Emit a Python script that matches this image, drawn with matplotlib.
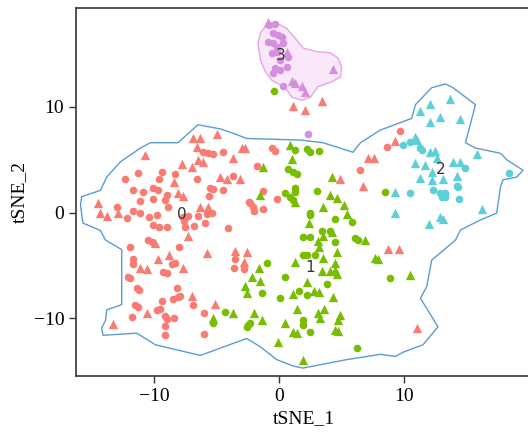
import matplotlib
matplotlib.use("Agg")
import matplotlib.pyplot as plt

# cluster colours as they appear in the picture
colors = {"0": "#F87C72", "1": "#78BE00", "2": "#5CCFD8", "3": "#D490DE"}

# cluster 0 (salmon)
c0_circle_x = [-6.1, -5.7, -5.3, -4.5, -11.3, -9.4, -12.3, -9.6, -8.3, -6.6, -3.7, -11.7, -10.9, -10.1, -9.7,
               -9.0, -5.5, -5.3, -4.5, -5.6, -11.1, -10.1, -9.1, -8.9, -13.0, -12.2, -11.7, -11.1, -10.4, -9.8,
               -7.7, -7.3, -7.6, -7.5, -6.5, -5.8, -5.4, -5.9, -6.8, -10.1, -9.6, -9.0, -4.1, -2.3, -2.1,
               -11.9, -10.5, -10.2, -8.0, -0.6, -0.3, -1.8, -1.3, -0.2, -2.4, -2.0, -1.3, 8.6, 9.7, 6.5,
               -3.5, -3.6, -2.8, -11.7, -11.7, -8.6, -8.3, -9.3, -9.0, -12.1, -11.9, -11.4, -11.2, -8.2, -8.5,
               -8.1, -7.9, -9.4, -6.9, -11.5, -11.3, -9.8, -9.5, -9.1, -9.0, -8.4, -6.0, -11.8, -9.1, -9.1, -6.0]
c0_circle_y = [5.7, 5.6, 5.5, 5.7, 3.7, 3.8, 3.2, 3.2, 3.6, 3.2, 3.5, 2.1, 1.9, 2.3, 2.1,
               1.7, 2.3, 2.2, 2.1, 1.6, 1.1, 1.3, 1.2, 0.5, 0.5, -0.5, 0.1, 0.0, -0.4, -0.2,
               -0.4, -0.3, -0.8, -1.4, -0.3, -0.1, 0.0, -1.0, -1.3, -1.2, -1.4, -1.4, -1.5, 0.9, 0.5,
               -3.3, -2.6, -2.8, -3.3, 6.1, 5.8, 4.4, 2.0, 1.3, 1.0, 0.1, 0.3, 6.2, 7.7, 4.0,
               -4.4, -5.2, -5.3, -4.4, -4.9, -4.9, -4.8, -5.6, -5.7, -6.1, -6.2, -7.1, -7.3, -7.1, -8.2,
               -8.0, -7.9, -8.4, -8.7, -8.7, -8.9, -9.2, -9.1, -9.8, -10.1, -10.0, -9.5, -9.9, -10.7, -11.6, -11.5]
c0_tri_x = [-10.7, -6.9, -6.3, -5.0, -6.6, -3.0, -2.7, -3.7, -6.5, -6.1, -7.8, -7.0, -8.4, -4.7, -4.2, -3.1,
            -8.1, -7.7, -14.5, -14.3, -13.8, -12.9, -6.3, -5.7, -7.3, 1.1, 2.1, 3.4, -9.9, -5.8, -3.5, -2.6,
            -2.8, -9.7, -8.8, -7.7, -11.1, -10.6, -7.0, -5.1, -10.6, -13.3, 4.9, 7.1, 7.6, 9.3, 6.7, 8.7,
            9.6, 11.0]
c0_tri_y = [5.4, 7.0, 7.0, 7.4, 6.2, 6.1, 6.1, 5.2, 5.0, 4.8, 4.6, 4.3, 2.9, 3.4, 3.2, 3.2,
            1.8, 1.6, 0.9, 0.0, -0.3, 0.0, 0.5, 0.5, -2.2, 10.1, 9.7, 10.5, -2.9, -3.8, -3.6, -3.7,
            -4.7, -4.4, -4.0, -5.2, -5.2, -5.3, -7.9, -8.6, -9.5, -10.5, 3.2, 5.2, 5.2, 6.8, 2.5, -3.4,
            -3.4, -10.9]

# cluster 1 (green)
c1_circle_x = [1.3, 2.2, 2.5, 3.2, 0.7, 1.1, 1.4, 1.3, 1.3, 0.5, 0.9, 1.1, 3.0, 8.5, 2.5, 2.5, 4.5, 5.8,
               3.4, 4.1, 1.9, 2.5, 4.5, 6.1, 6.3, 1.9, 2.2, 2.9, -1.0, 0.5, 3.8, 1.6, 2.2, 0.1, -1.4,
               8.9, 1.9, 1.9, 2.5, -2.3, -2.6, 6.2, -4.3, -5.3, -2.5, -0.4]
c1_circle_y = [5.9, 6.0, 5.7, 5.8, 4.1, 3.8, 3.6, 2.3, 1.9, 1.8, 1.5, 1.2, 2.0, 1.9, 0.0, -0.2, -0.6, -0.9,
               -1.7, -1.7, -2.3, -2.3, -2.8, -2.4, -2.6, -4.0, -4.0, -4.0, -4.8, -6.1, -6.8, -7.4, -7.8, -8.1, -7.6,
               -6.2, -10.2, -10.6, -11.3, -10.4, -10.8, -12.8, -9.4, -10.4, -10.6, 11.5]
c1_tri_x = [0.9, 1.0, -1.3, 4.2, -1.5, 1.3, 4.1, 4.6, 3.5, 5.2, 5.4, 2.4, 3.5, 4.2, 3.1, 6.9, 3.2, 4.6,
            1.3, 3.5, 4.5, 4.5, 3.4, 4.1, 4.6, -1.6, -2.2, -1.5, 2.2, 1.1, 2.8, 3.2, 4.3, -2.7, -2.6,
            7.7, 7.9, 1.4, 3.6, 3.1, 3.3, 4.9, 4.7, 0.5, 1.1, 1.4, 4.5, 4.7, -2.0, -1.4, -0.1, 10.5,
            -3.7, -5.3, 1.9]
c1_tri_y = [6.4, 5.1, 4.3, 3.4, 1.7, 1.0, 1.7, 1.4, 0.5, 0.7, -0.1, -1.0, -2.2, -1.8, -2.7, -2.6, -3.3, -3.7,
            -4.7, -4.3, -4.8, -5.4, -5.5, -5.5, -5.8, -5.2, -6.1, -6.5, -6.6, -7.7, -7.4, -7.5, -8.0, -6.9, -7.6,
            -4.3, -4.4, -9.1, -9.1, -9.5, -10.0, -9.7, -10.2, -10.4, -11.3, -11.4, -11.1, -11.2, -9.5, -10.2, -12.2, -5.9,
            -9.5, -10.0, -13.9]

# cluster 2 (cyan)
c2_circle_x = [10.5, 9.9, 11.3, 11.4, 14.9, 18.4, 14.2, 14.3, 12.3, 12.9, 13.3, 13.3, 13.0, 10.5, 14.4]
c2_circle_y = [6.7, 6.4, 6.1, 5.9, 4.2, 3.7, 2.5, 2.4, 2.1, 1.8, 1.8, 1.5, 1.5, 1.8, 1.3]
c2_tri_x = [13.7, 12.1, 11.3, 12.9, 12.1, 14.5, 10.9, 11.0, 12.1, 12.5, 12.6, 13.9, 14.5, 10.9, 11.7, 15.8,
            11.3, 12.2, 12.2, 13.1, 14.2, 9.3, 9.3, 16.2, 12.9, 13.1, 12.0]
c2_tri_y = [10.7, 10.3, 9.6, 9.0, 8.6, 8.8, 7.1, 6.9, 5.7, 5.8, 5.2, 4.8, 4.8, 4.7, 4.5, 5.5,
            3.3, 3.8, 3.1, 3.2, 3.5, 1.9, 0.0, 0.3, -0.4, -0.6, -1.1]

# cluster 3 (purple)
c3_circle_x = [-0.8, -0.3, -0.5, -0.1, 0.2, -0.9, -0.5, -0.2, 0.3, -0.6, -0.2, 0.7, 0.1, -0.3, 0.1, 0.6,
               -0.5, 0.3, 2.3]
c3_circle_y = [17.7, 17.8, 17.0, 16.8, 16.6, 16.1, 16.0, 15.6, 16.0, 15.1, 15.2, 14.7, 14.4, 13.7, 13.5, 13.8,
               13.2, 12.0, 7.4]
c3_tri_x = [4.3, 1.0, 1.3, 1.8, 2.1, -0.9, 0.6]
c3_tri_y = [13.6, 12.4, 12.2, 12.0, 11.4, 18.0, 15.2]

# hull outlines
hull_x = [-15.8, -15.9, -15.7, -14.3, -13.9, -12.6, -12.6, -13.8, -13.9, -14.2, -14.1, -11.4, -9.9, -7.4,
          -6.3, -2.6, -1.5, -0.2, 1.1, 1.9, 5.4, 8.1, 9.3, 9.9, 11.5, 12.7, 11.3, 11.8, 12.2, 14.1, 14.5,
          16.1, 17.4, 17.7, 17.9, 19.0, 19.5, 18.2, 17.7, 15.7, 14.9, 15.7, 13.9, 13.3, 12.2, 10.9, 10.6,
          8.1, 6.5, 5.9, 3.5, 1.7, -2.6, -3.7, -4.7, -6.5, -8.1, -10.3, -11.1, -12.7, -13.8, -14.3, -15.8]
hull_y = [1.5, 0.7, -1.0, -1.7, -2.6, -3.5, -8.7, -9.2, -10.2, -10.9, -11.6, -11.4, -12.5, -13.2,
          -13.5, -11.9, -12.7, -13.9, -14.5, -14.7, -13.9, -13.4, -13.6, -13.2, -12.5, -10.8, -8.1, -7.0, -4.5, -2.6, -1.65,
          -0.7, -0.05, 2.4, 3.1, 3.35, 4.0, 5.0, 5.6, 6.1, 6.6, 10.2, 11.8, 12.15, 11.8, 10.2, 8.9,
          7.8, 6.6, 5.7, 6.6, 6.85, 7.0, 7.5, 7.9, 8.3, 6.6, 6.6, 6.1, 4.8, 3.35, 2.1, 1.5]
hull3_x = [-1.5, -1.0, -0.2, 0.6, 1.4, 1.9, 3.0, 4.1, 4.7, 5.0, 4.9, 4.1, 3.1, 2.5, 1.8, 1.0, 0.5,
           -0.6, -1.1, -1.5, -1.7]
hull3_y = [17.0, 17.7, 17.9, 17.4, 16.3, 15.55, 15.2, 15.1, 14.6, 13.75, 12.8, 12.3, 11.9, 10.9, 10.6, 10.9, 11.8,
           12.5, 13.3, 14.4, 16.0]

labels = ["0", "1", "2", "3"]
label_x = [-7.8, 2.5, 12.9, 0.1]
label_y = [-0.2, -5.2, 4.1, 14.8]

plt.rcParams['font.family'] = ['Liberation Serif', 'DejaVu Serif']

fig = plt.figure(figsize=(5.28, 4.43), dpi=100)
ax = fig.add_axes([0.1439, 0.1512, 0.8617, 0.8307])

# hulls
ax.fill(hull3_x, hull3_y, facecolor='#FAE8FA', edgecolor='#E6A6E6', linewidth=1, zorder=1)
ax.plot(hull_x, hull_y, color='#5B9BD5', linewidth=1, zorder=1)

clusters = [
    ("0", c0_circle_x, c0_circle_y, c0_tri_x, c0_tri_y),
    ("1", c1_circle_x, c1_circle_y, c1_tri_x, c1_tri_y),
    ("2", c2_circle_x, c2_circle_y, c2_tri_x, c2_tri_y),
    ("3", c3_circle_x, c3_circle_y, c3_tri_x, c3_tri_y),
]
for name, cx, cy, tx, ty in clusters:
    ax.scatter(cx, cy, s=30, marker='o', color=colors[name], linewidths=0, zorder=2)
    ax.scatter(tx, ty, s=45, marker='^', color=colors[name], linewidths=0, zorder=2)

for lab, lx, ly in zip(labels, label_x, label_y):
    ax.text(lx, ly, lab, fontsize=11, family='DejaVu Sans', color='#333333',
            ha='center', va='center', zorder=3)

ax.set_xlim(-16.26, 20.14)
ax.set_ylim(-15.45, 19.33)
ax.set_xticks([-10, 0, 10])
ax.set_yticks([-10, 0, 10])
ax.tick_params(labelsize=14, length=5, width=1, color='#333333', direction='out')
for sp in ax.spines.values():
    sp.set_color('#444444')
    sp.set_linewidth(1.3)
ax.set_xlabel('tSNE_1', fontsize=14)
ax.set_ylabel('tSNE_2', fontsize=14)

fig.savefig('out.png', dpi=100)
